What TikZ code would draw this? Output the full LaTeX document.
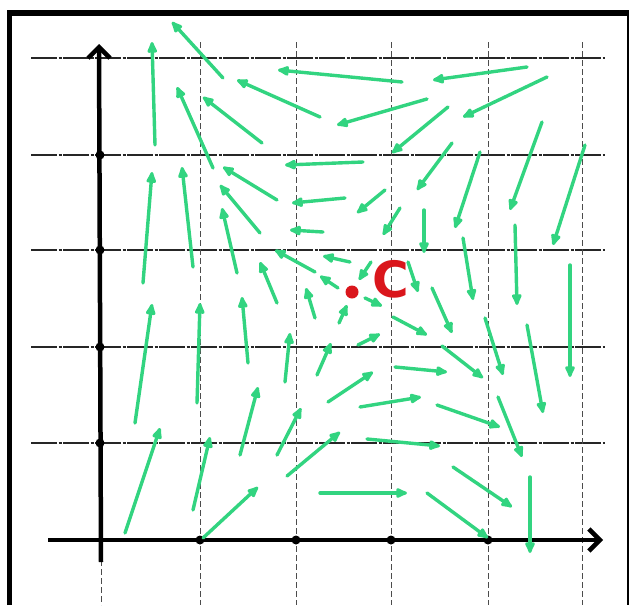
\documentclass[tikz,border=0pt]{standalone}
\usepackage{fontspec}
\setmainfont{Liberation Sans}
\newfontfamily\labelfont{DejaVu Sans}
\usetikzlibrary{arrows.meta}
\definecolor{fgreen}{RGB}{50,212,128}
\definecolor{cred}{RGB}{218,22,28}
\begin{document}
\begin{tikzpicture}[x=1pt,y=-1pt,
  vec/.style={draw=fgreen, line width=3.4pt, line cap=round, -{Latex[length=15pt,width=12pt,round]}},
  hgrid/.style={draw=black!85, line width=1.2pt, dash pattern=on 26pt off 1.5pt on 3pt off 1.5pt},
  vgrid/.style={draw=black!70, line width=0.8pt, dash pattern=on 6pt off 3pt},
  axisarrow/.style={draw=black, line width=4.5pt, -{Straight Barb[length=11pt,width=22pt]}},
  frameline/.style={draw=black, line width=5.5pt},
  axdot/.style={fill=black}
]
\useasboundingbox (0,0) rectangle (629,605);
% frame
\draw[frameline] (9.5,605) -- (9.5,13) -- (629,13);
\draw[draw=black, line width=2pt] (627.5,13) -- (627.5,605);
% grid
\foreach \y in {58,155,250,347,443}
  \draw[hgrid] (31,\y) -- (605,\y);
\foreach \x in {200,296,391,488,582}
  \draw[vgrid] (\x,42) -- (\x,605);
\draw[vgrid] (101,560) -- (101,605);
% axes
\coordinate (O) at (100,540);
\coordinate (ytip) at (99,44);
\coordinate (xtip) at (603,540);
\coordinate (xstart) at (48,540);
\coordinate (ybot) at (101,562);
\draw[axisarrow] (ybot) -- (ytip);
\draw[axisarrow] (xstart) -- (xtip);
\foreach \y in {155,250,347,443}
  \fill[axdot] (100,\y) circle (4.5pt);
\foreach \x in {200,296,391,488}
  \fill[axdot] (\x,540) circle (4.5pt);
% vector field
\foreach \a/\b/\c/\d in {
 155/145/152/42, 143/283/152/172, 125/533/160/428, 135/423/152/304,
 193/267/182/167, 197/403/200/303, 193/510/210/437, 203/538/258/487,
 223/78/172/22, 262/143/203/97, 213/168/177/87, 277/200/223/167,
 260/233/220/185, 237/273/222/208, 315/272/275/250, 277/303/260/262,
 248/363/242/297, 320/117/237/80, 402/82/278/70, 527/67/433/80,
 427/99/337/125, 547/77/463/117, 448/107/392/153, 363/162/285/165,
 345/198/292/203, 323/232/290/230, 385/190/357/213, 400/208/383/235,
 452/143/417/190, 480/152/455/228, 542/122/510/210, 585/145/553/245,
 424/210/424/253, 463/238/473/300, 515/225/517/305, 570/265/570/377,
 408/262/418/292, 432/288/452/333, 393/317/427/335, 485/318/503/375,
 527/325/543/413, 358/345/380/334, 317/375/331/343, 395/367/447/372,
 442/346/483/378, 328/402/373/372, 360/407/421/397, 437/405/500/427,
 498/397/522/457, 367/439/440/446, 287/476/340/432, 453/467/512/507,
 320/493/407/493, 427/493/488/538, 530/477/530/553, 240/455/258/387,
 277/455/301/408, 285/382/290/333, 315/318/306/288, 350/262/323/256,
 338/288/320/276, 371/262/359/280, 339/323/347/305, 365/298/382/306}
  \draw[vec] (\a,\b) -- (\c,\d);
% point C
\fill[cred] (352,292) circle (6.5pt);
\coordinate (C) at (352,292);
\node[text=cred, font=\labelfont\bfseries\fontsize{50}{50}\selectfont, inner sep=0pt] (Clabel) at (391,279) {C};
\end{tikzpicture}
\end{document}
